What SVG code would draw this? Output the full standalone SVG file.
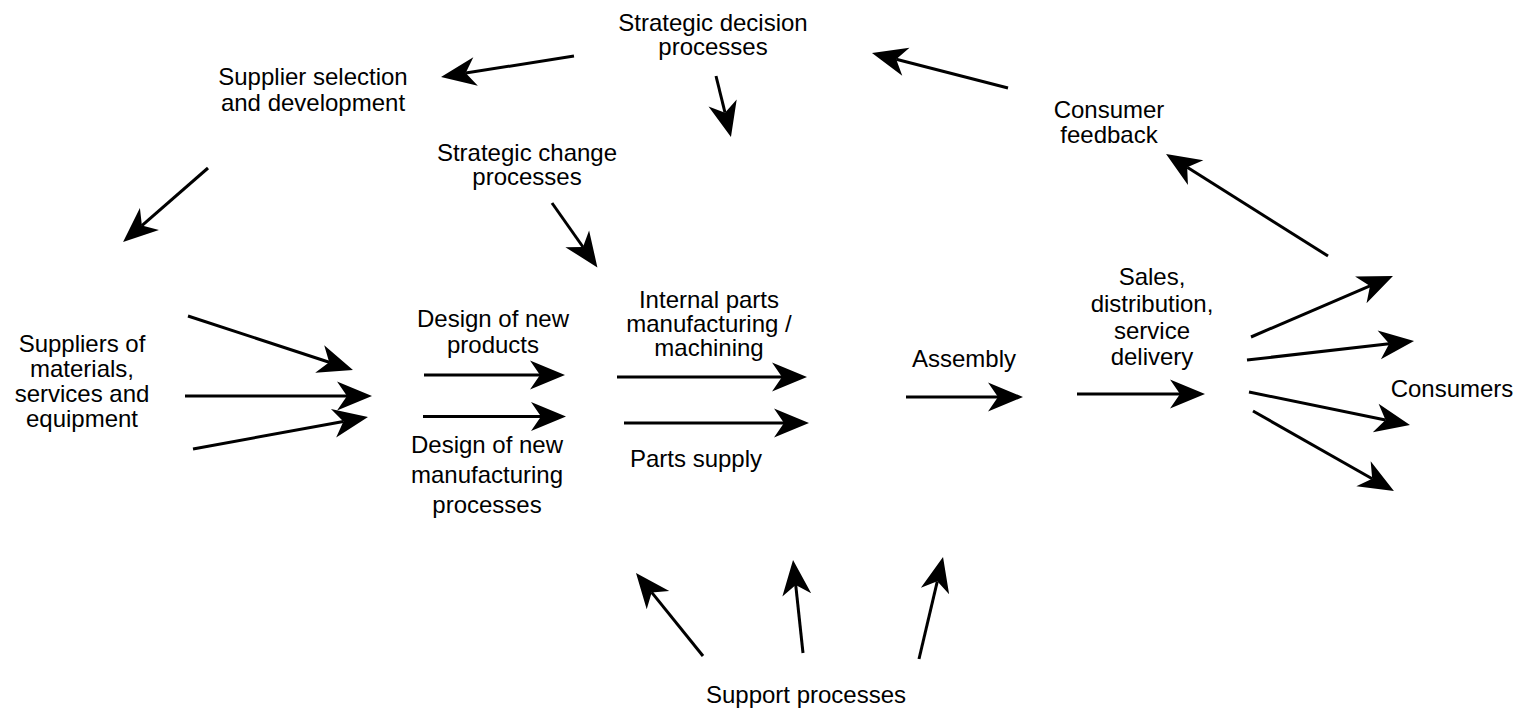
<svg xmlns="http://www.w3.org/2000/svg" width="1522" height="710" viewBox="0 0 1522 710">
<style>
text { font-family: "Liberation Sans", Arial, sans-serif; font-size: 24px; fill: #000; text-anchor: middle; }
.c { stroke: #000; stroke-width: 3; fill: none; marker-end: url(#ah); }
</style>
<defs>
<marker id="ah" viewBox="-11 -16 38 32" refX="0" refY="0" markerWidth="38" markerHeight="32" markerUnits="userSpaceOnUse" orient="auto">
<path d="M25,0 L-10,-14.5 L0,0 L-10,14.5 Z" fill="#000"/>
</marker>
</defs>
<rect width="1522" height="710" fill="#fff"/>
<g id="strategic-decision"><text x="713" y="31">Strategic decision</text><text x="713" y="55">processes</text></g>
<g id="supplier-selection"><text x="313" y="85">Supplier selection</text><text x="313" y="111">and development</text></g>
<g id="strategic-change"><text x="527" y="161">Strategic change</text><text x="527" y="185">processes</text></g>
<g id="consumer-feedback"><text x="1109" y="118">Consumer</text><text x="1109" y="143">feedback</text></g>
<g id="suppliers"><text x="82" y="352">Suppliers of</text><text x="82" y="377">materials,</text><text x="82" y="402">services and</text><text x="82" y="427">equipment</text></g>
<g id="design-products"><text x="493" y="327">Design of new</text><text x="493" y="353">products</text></g>
<g id="design-processes"><text x="487" y="453">Design of new</text><text x="487" y="483">manufacturing</text><text x="487" y="513">processes</text></g>
<g id="internal-parts"><text x="709" y="308">Internal parts</text><text x="709" y="332">manufacturing /</text><text x="709" y="356">machining</text></g>
<g id="parts-supply"><text x="696" y="467">Parts supply</text></g>
<g id="assembly"><text x="964" y="367">Assembly</text></g>
<g id="sales"><text x="1152" y="285">Sales,</text><text x="1152" y="312">distribution,</text><text x="1152" y="339">service</text><text x="1152" y="365">delivery</text></g>
<g id="consumers"><text x="1452" y="397">Consumers</text></g>
<g id="support"><text x="806" y="703">Support processes</text></g>
<g id="connectors">
<line class="c" x1="188" y1="316" x2="329.2" y2="362.2"/>
<line class="c" x1="185" y1="396" x2="347" y2="396"/>
<line class="c" x1="193" y1="449" x2="343.4" y2="421.5"/>
<line class="c" x1="424" y1="375" x2="540" y2="375"/>
<line class="c" x1="423" y1="416.5" x2="541" y2="416.5"/>
<line class="c" x1="617" y1="377" x2="782" y2="377"/>
<line class="c" x1="624" y1="423" x2="784" y2="423"/>
<line class="c" x1="906" y1="397" x2="998" y2="397"/>
<line class="c" x1="1077" y1="394" x2="1180" y2="394"/>
<line class="c" x1="1251" y1="337" x2="1370" y2="285.9"/>
<line class="c" x1="1247" y1="360" x2="1389.2" y2="343.8"/>
<line class="c" x1="1249" y1="392" x2="1385.5" y2="420"/>
<line class="c" x1="1253" y1="411" x2="1372.2" y2="478.7"/>
<line class="c" x1="1328" y1="256" x2="1187.2" y2="167.3"/>
<line class="c" x1="1008" y1="88" x2="896.2" y2="59.2"/>
<line class="c" x1="574" y1="56" x2="465.7" y2="73.1"/>
<line class="c" x1="716" y1="76" x2="725" y2="112.7"/>
<line class="c" x1="552" y1="203" x2="583" y2="247"/>
<line class="c" x1="208" y1="168" x2="141.9" y2="225.6"/>
<line class="c" x1="703" y1="656" x2="651.7" y2="592.4"/>
<line class="c" x1="803" y1="653" x2="795.7" y2="584.9"/>
<line class="c" x1="919" y1="659" x2="937.3" y2="581.3"/>
</g>
</svg>
